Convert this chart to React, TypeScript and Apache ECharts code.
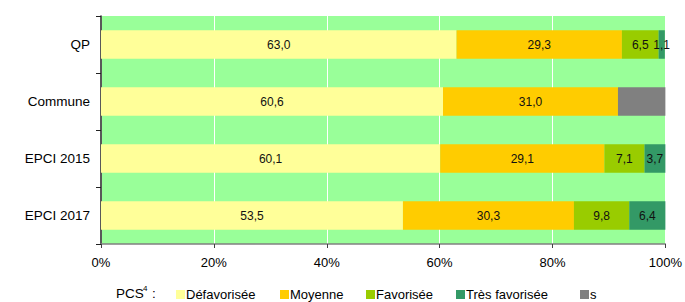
import React, { useEffect, useRef } from "react";
import * as echarts from "echarts";

const categories = ["QP", "Commune", "EPCI 2015", "EPCI 2017"];
const defavorisee = [63.0, 60.6, 60.1, 53.5];
const moyenne = [29.3, 31.0, 29.1, 30.3];
const favorisee = [6.5, 0, 7.1, 9.8];
const tresFavorisee = [1.1, 0, 3.7, 6.4];
const secret = [0, 8.4, 0, 0];
const xTicks = [0, 20, 40, 60, 80, 100];

const FONT = "Liberation Sans, Arial, sans-serif";

export default function App() {
  const ref = useRef<HTMLDivElement>(null);
  useEffect(() => {
    if (!ref.current) return;
    const chart = echarts.init(ref.current, null, { renderer: "svg" });
    const fmt = (p: any) => (p.value > 0 ? p.value.toFixed(1).replace(".", ",") : "");
    const mk = (name: string, data: number[], color: string, showLabel: boolean) => ({
      name,
      type: "bar",
      stack: "total",
      data,
      barWidth: "50%",
      itemStyle: { color },
      label: {
        show: showLabel,
        position: "inside",
        color: "#111",
        fontSize: 12,
        fontFamily: FONT,
        formatter: fmt,
      },
      emphasis: { disabled: true },
    });
    const legendItem = (name: string, left: number) => ({
      data: [name],
      left,
      top: 288,
      itemWidth: 9,
      itemHeight: 9,
      itemGap: 0,
      padding: 0,
      icon: "rect",
      textStyle: { fontFamily: FONT, fontSize: 13, color: "#000", padding: [0, 0, 0, -4] },
      selectedMode: false,
    });
    chart.setOption({
      animation: false,
      backgroundColor: "#fff",
      grid: { left: 101, right: 16, top: 16, bottom: 58, backgroundColor: "#99FF99", show: true, borderWidth: 0 },
      xAxis: {
        type: "value",
        min: 0,
        max: 100,
        interval: 20,
        axisLine: { show: true, lineStyle: { color: "#808080", width: 1.5 } },
        axisTick: { show: true, length: 4, lineStyle: { color: "#404040" } },
        axisLabel: {
          formatter: (v: number) => (xTicks.includes(v) ? v + "%" : ""),
          color: "#000",
          fontSize: 13,
          fontFamily: FONT,
          margin: 12,
        },
        splitLine: { show: true, lineStyle: { color: "#fff", width: 1 } },
      },
      yAxis: {
        type: "category",
        data: categories,
        inverse: true,
        axisLine: { show: true, lineStyle: { color: "#222", width: 1.5 } },
        axisTick: { show: true, length: 5, lineStyle: { color: "#222" } },
        axisLabel: { color: "#000", fontSize: 13.5, fontFamily: FONT, margin: 11 },
      },
      legend: [
        legendItem("Défavorisée", 176),
        legendItem("Moyenne", 280),
        legendItem("Favorisée", 366),
        legendItem("Très favorisée", 456),
        legendItem("s", 580),
      ],
      graphic: [
        {
          type: "text",
          left: 116,
          top: 286,
          style: { text: "PCS", fontFamily: FONT, fontSize: 13.5, fill: "#000" },
        },
        {
          type: "text",
          left: 143,
          top: 284,
          style: { text: "4", fontFamily: FONT, fontSize: 8, fill: "#000" },
        },
        {
          type: "text",
          left: 152,
          top: 286,
          style: { text: ":", fontFamily: FONT, fontSize: 13.5, fill: "#000" },
        },
      ],
      series: [
        mk("Défavorisée", defavorisee, "#FFFF99", true),
        mk("Moyenne", moyenne, "#FFCC00", true),
        mk("Favorisée", favorisee, "#99CC00", true),
        mk("Très favorisée", tresFavorisee, "#339966", true),
        mk("s", secret, "#808080", false),
      ],
    });
    return () => chart.dispose();
  }, []);
  return <div ref={ref} style={{ width: 685, height: 302, position: "absolute", left: 0, top: 0 }} />;
}
